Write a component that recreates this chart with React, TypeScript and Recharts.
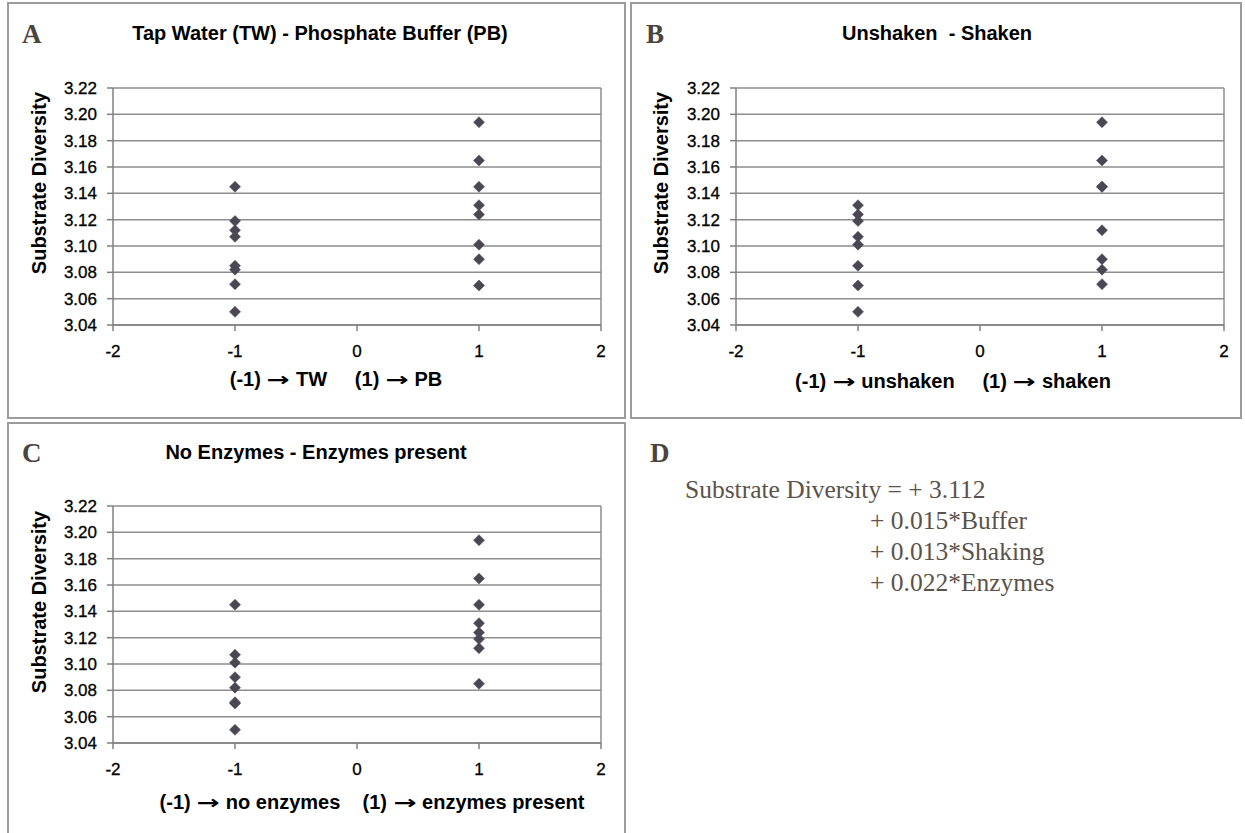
import React from 'react';
import { ScatterChart, Scatter, XAxis, YAxis, CartesianGrid, ReferenceLine } from 'recharts';

// ---------- data ----------
const xTicks = [-2, -1, 0, 1, 2];
const yTicks = [3.04, 3.06, 3.08, 3.1, 3.12, 3.14, 3.16, 3.18, 3.2, 3.22];
const lowLevel = -1;
const highLevel = 1;

const tapWater = [3.145, 3.119, 3.112, 3.107, 3.085, 3.082, 3.071, 3.05];
const phosphateBuffer = [3.194, 3.165, 3.145, 3.131, 3.124, 3.101, 3.09, 3.07];

const unshaken = [3.131, 3.124, 3.119, 3.107, 3.101, 3.085, 3.07, 3.05];
const shaken = [3.194, 3.165, 3.145, 3.145, 3.112, 3.09, 3.082, 3.071];

const noEnzymes = [3.145, 3.107, 3.101, 3.09, 3.082, 3.071, 3.07, 3.05];
const enzymesPresent = [3.194, 3.165, 3.145, 3.131, 3.124, 3.119, 3.112, 3.085];

const panelLetters = ['A', 'B', 'C', 'D'];
const panelTitles = [
  'Tap Water (TW) - Phosphate Buffer (PB)',
  'Unshaken  - Shaken',
  'No Enzymes - Enzymes present',
];
const xAxisTitles = [
  '(-1) \u2192 TW     (1) \u2192 PB',
  '(-1) \u2192 unshaken     (1) \u2192 shaken',
  '(-1) \u2192 no enzymes    (1) \u2192 enzymes present',
];
const yAxisTitle = 'Substrate Diversity';
const equationLines = [
  'Substrate Diversity = + 3.112',
  '+ 0.015*Buffer',
  '+ 0.013*Shaking',
  '+ 0.022*Enzymes',
];

// ---------- styles ----------
const SANS = '"Liberation Sans", Arial, Helvetica, sans-serif';
const SERIF = '"Liberation Serif", "Times New Roman", serif';
const MARKER = '#4b4651';
const GRID = '#8e8e8e';
const AXIS = '#808080';
const FRAME = '#9c9c9c';
const LETTER = '#4a443e';
const EQ = '#5b534b';
const TICK_SIZE = 17;

const toPoints = (low: number[], high: number[]) => [
  ...low.map((v) => ({ x: lowLevel, y: v })),
  ...high.map((v) => ({ x: highLevel, y: v })),
];

const Diamond = (props: any) => {
  const { cx, cy } = props;
  if (cx == null || cy == null) return null;
  const r = 5.5;
  return (
    <path
      d={`M${cx},${cy - r}L${cx + r},${cy}L${cx},${cy + r}L${cx - r},${cy}Z`}
      fill={MARKER}
      stroke="#55506a"
      strokeWidth={0.6}
    />
  );
};

const XTick = (props: any) => {
  const { x, y, payload } = props;
  return (
    <text
      x={x}
      y={y}
      dy="0.71em"
      textAnchor="middle"
      fontSize={TICK_SIZE}
      fontFamily={SANS}
      fill="#000"
      stroke="#000"
      strokeWidth={0.3}
    >
      {payload.value}
    </text>
  );
};

const YTick = (props: any) => {
  const { x, y, payload } = props;
  return (
    <text
      x={x}
      y={y}
      dy="0.36em"
      textAnchor="end"
      fontSize={TICK_SIZE}
      fontFamily={SANS}
      fill="#000"
      stroke="#000"
      strokeWidth={0.3}
    >
      {Number(payload.value).toFixed(2)}
    </text>
  );
};

type PanelProps = {
  left: number;
  top: number;
  width: number;
  height: number;
  margin: { top: number; right: number; bottom: number; left: number };
  data: { x: number; y: number }[];
};

const PanelChart = ({ left, top, width, height, margin, data }: PanelProps) => (
  <div style={{ position: 'absolute', left, top, width, height }}>
    <ScatterChart width={width} height={height} margin={margin}>
      <CartesianGrid vertical={false} stroke={GRID} strokeWidth={1.5} />
      <XAxis
        type="number"
        dataKey="x"
        domain={[-2, 2]}
        ticks={xTicks}
        interval={0}
        height={30}
        tickSize={6}
        tickMargin={14}
        stroke={AXIS}
        strokeWidth={1.5}
        tick={<XTick />}
        allowDataOverflow
      />
      <YAxis
        type="number"
        dataKey="y"
        domain={[3.04, 3.22]}
        ticks={yTicks}
        interval={0}
        width={60}
        tickSize={6}
        tickMargin={10}
        stroke={AXIS}
        strokeWidth={1.5}
        tick={<YTick />}
        allowDataOverflow
      />
      <ReferenceLine x={2} stroke={GRID} strokeWidth={1.5} />
      <Scatter data={data} shape={Diamond} isAnimationActive={false} />
    </ScatterChart>
  </div>
);

const Frame = ({ left, top, width, height }: { left: number; top: number; width: number; height: number }) => (
  <div
    style={{
      position: 'absolute',
      left,
      top,
      width,
      height,
      boxSizing: 'border-box',
      border: `2px solid ${FRAME}`,
    }}
  />
);

const Letter = ({ text, left, cy }: { text: string; left: number; cy: number }) => (
  <div
    style={{
      position: 'absolute',
      left,
      top: cy - 15,
      height: 30,
      lineHeight: '30px',
      fontFamily: SERIF,
      fontWeight: 'bold',
      fontSize: 27,
      color: LETTER,
    }}
  >
    {text}
  </div>
);

const withArrows = (text: string) => {
  const parts = text.split('\u2192');
  const out: React.ReactNode[] = [];
  parts.forEach((p, i) => {
    out.push(<span key={`t${i}`}>{p}</span>);
    if (i < parts.length - 1) {
      out.push(
        <span
          key={`a${i}`}
          style={{
            display: 'inline-block',
            width: 24,
            textAlign: 'center',
            fontFamily: '"DejaVu Sans", sans-serif',
            fontWeight: 'bold',
            fontSize: 19,
            transform: 'scaleX(1.45)',
          }}
        >
          {'\u2192'}
        </span>
      );
    }
  });
  return out;
};

const CenteredText = ({ text, cx, cy, size = 20 }: { text: string; cx: number; cy: number; size?: number }) => (
  <div
    style={{
      position: 'absolute',
      left: cx - 300,
      width: 600,
      top: cy - 12,
      height: 24,
      lineHeight: '24px',
      textAlign: 'center',
      whiteSpace: 'pre',
      fontFamily: SANS,
      fontWeight: 'bold',
      fontSize: size,
      color: '#000',
    }}
  >
    {withArrows(text)}
  </div>
);

const YTitle = ({ cx, cy }: { cx: number; cy: number }) => (
  <div
    style={{
      position: 'absolute',
      left: cx - 130,
      width: 260,
      top: cy - 12,
      height: 24,
      lineHeight: '24px',
      textAlign: 'center',
      whiteSpace: 'pre',
      fontFamily: SANS,
      fontWeight: 'bold',
      fontSize: 20,
      color: '#000',
      transform: 'rotate(-90deg)',
    }}
  >
    {yAxisTitle}
  </div>
);

const EqLine = ({ text, left, cy }: { text: string; left: number; cy: number }) => (
  <div
    style={{
      position: 'absolute',
      left,
      top: cy - 15,
      height: 30,
      lineHeight: '30px',
      whiteSpace: 'pre',
      fontFamily: SERIF,
      fontSize: 25.5,
      color: EQ,
    }}
  >
    {text}
  </div>
);

export default function App() {
  return (
    <div
      style={{
        position: 'absolute',
        left: 0,
        top: 0,
        width: 1245,
        height: 833,
        overflow: 'hidden',
        background: '#fff',
        fontFamily: SANS,
      }}
    >
      {/* frames */}
      <Frame left={7} top={2} width={619} height={417} />
      <Frame left={630} top={2} width={612} height={417} />
      <Frame left={7} top={422} width={619} height={440} />

      {/* charts */}
      <PanelChart
        left={0}
        top={0}
        width={625}
        height={420}
        margin={{ top: 88, right: 24, bottom: 65, left: 53 }}
        data={toPoints(tapWater, phosphateBuffer)}
      />
      <PanelChart
        left={625}
        top={0}
        width={620}
        height={420}
        margin={{ top: 88, right: 21, bottom: 65, left: 51 }}
        data={toPoints(unshaken, shaken)}
      />
      <PanelChart
        left={0}
        top={418}
        width={625}
        height={415}
        margin={{ top: 88, right: 24, bottom: 60, left: 53 }}
        data={toPoints(noEnzymes, enzymesPresent)}
      />

      {/* letters */}
      <Letter text={panelLetters[0]} left={22} cy={34} />
      <Letter text={panelLetters[1]} left={646} cy={34} />
      <Letter text={panelLetters[2]} left={22} cy={453} />
      <Letter text={panelLetters[3]} left={650} cy={453} />

      {/* titles */}
      <CenteredText text={panelTitles[0]} cx={320} cy={33} />
      <CenteredText text={panelTitles[1]} cx={937} cy={33} />
      <CenteredText text={panelTitles[2]} cx={316} cy={452} />

      {/* y axis titles */}
      <YTitle cx={39} cy={183} />
      <YTitle cx={661} cy={183} />
      <YTitle cx={39} cy={602} />

      {/* x axis titles */}
      <CenteredText text={xAxisTitles[0]} cx={336} cy={379} />
      <CenteredText text={xAxisTitles[1]} cx={953} cy={381} />
      <CenteredText text={xAxisTitles[2]} cx={372} cy={802} />

      {/* equation panel D */}
      <EqLine text={equationLines[0]} left={685} cy={490} />
      <EqLine text={equationLines[1]} left={870} cy={521} />
      <EqLine text={equationLines[2]} left={870} cy={552} />
      <EqLine text={equationLines[3]} left={870} cy={583} />
    </div>
  );
}
